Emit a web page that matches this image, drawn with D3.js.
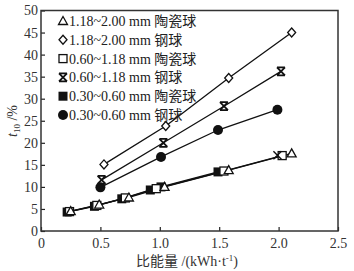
<!DOCTYPE html>
<html><head><meta charset="utf-8">
<script src="https://cdn.jsdelivr.net/npm/d3@7"></script>
<style>body{margin:0;background:#fff}svg{display:block}</style>
</head><body><svg id="c" width="354" height="271"></svg>
<script>
const xTicks = [0, 0.5, 1.0, 1.5, 2.0, 2.5];
const xTickLabels = ["0", "0.5", "1.0", "1.5", "2.0", "2.5"];
const yTicks = [0, 5, 10, 15, 20, 25, 30, 35, 40, 45, 50];
const seriesNames = ["1.18~2.00 mm 陶瓷球", "1.18~2.00 mm 钢球", "0.60~1.18 mm 陶瓷球", "0.60~1.18 mm 钢球", "0.30~0.60 mm 陶瓷球", "0.30~0.60 mm 钢球"];
const seriesSymbols = ["triangle", "diamond", "square", "star", "squareFill", "circle"];
const ceramicCoarse = [[0.25,4.5],[0.49,6.0],[0.74,7.6],[1.04,10.0],[1.58,13.8],[2.11,17.6]];
const steelCoarse = [[0.53,15.1],[1.05,23.8],[1.58,34.7],[2.11,45.0]];
const ceramicMid = [[0.24,4.4],[0.47,5.8],[0.71,7.5],[0.97,9.6],[1.54,13.6],[2.03,17.1]];
const steelMid = [[0.51,11.6],[1.03,20.0],[1.54,28.3],[2.02,36.2]];
const ceramicFine = [[0.22,4.3],[0.45,5.6],[0.68,7.3],[0.92,9.3],[1.01,10.0],[1.49,13.4]];
const steelFine = [[0.50,9.9],[1.01,16.8],[1.49,22.9],[1.99,27.5]];
const strayMarker = [[1.99,17.2]];
const seriesData = [ceramicCoarse, steelCoarse, ceramicMid, steelMid, ceramicFine, steelFine];

const svg = d3.select("#c");
const L = 41, R = 338, T = 10.5, B = 231;
const x = d3.scaleLinear().domain([0, 2.5]).range([L, R]);
const y = d3.scaleLinear().domain([0, 50]).range([B, T]);
const font = "'Liberation Serif','Times New Roman',serif";
const cjk = "'Liberation Serif','Noto Sans CJK SC',serif";

// axes
const xa = svg.append("g").attr("transform", `translate(0,${B})`)
  .call(d3.axisBottom(x).tickValues(xTicks).tickFormat((d,i)=>xTickLabels[i]).tickSizeInner(-4).tickSizeOuter(0).tickPadding(7));
const ya = svg.append("g").attr("transform", `translate(${L},0)`)
  .call(d3.axisLeft(y).tickValues(yTicks).tickSizeInner(-4).tickSizeOuter(0).tickPadding(3));
[xa, ya].forEach(g => {
  g.select(".domain").remove();
  g.selectAll("line").attr("stroke", "#222").attr("stroke-width", 1.2);
  g.selectAll("text").attr("font-family", font).attr("font-size", 14).attr("fill", "#333");
});
svg.append("rect").attr("x", L).attr("y", T).attr("width", R - L).attr("height", B - T)
  .attr("fill", "none").attr("stroke", "#333").attr("stroke-width", 1.5);

// lines
const line = d3.line().x(d => x(d[0])).y(d => y(d[1]));
seriesData.forEach(s => {
  svg.append("path").attr("d", line(s)).attr("fill", "none").attr("stroke", "#111").attr("stroke-width", 1.3);
});

function marker(g, type, cx, cy) {
  const sw = 1.3;
  if (type === "triangle") {
    g.append("path").attr("d", `M${cx},${cy-4.5}L${cx+4.5},${cy+3.5}L${cx-4.5},${cy+3.5}Z`).attr("fill", "#fff").attr("stroke", "#111").attr("stroke-width", sw);
  } else if (type === "diamond") {
    g.append("path").attr("d", `M${cx},${cy-4.5}L${cx+4},${cy}L${cx},${cy+4.5}L${cx-4},${cy}Z`).attr("fill", "#fff").attr("stroke", "#111").attr("stroke-width", sw);
  } else if (type === "square") {
    g.append("rect").attr("x", cx-4).attr("y", cy-4).attr("width", 8).attr("height", 8).attr("fill", "#fff").attr("stroke", "#111").attr("stroke-width", sw);
  } else if (type === "squareFill") {
    g.append("rect").attr("x", cx-4.5).attr("y", cy-4.5).attr("width", 9).attr("height", 9).attr("fill", "#111");
  } else if (type === "circle") {
    g.append("circle").attr("cx", cx).attr("cy", cy).attr("r", 5).attr("fill", "#111");
  } else if (type === "star") {
    g.append("path").attr("d", `M${cx-4},${cy-4}L${cx+4},${cy+4}M${cx+4},${cy-4}L${cx-4},${cy+4}M${cx-4},${cy-4}L${cx+4},${cy-4}M${cx-4},${cy+4}L${cx+4},${cy+4}`).attr("stroke", "#111").attr("stroke-width", 1.8).attr("fill", "none");
  } else if (type === "x") {
    g.append("path").attr("d", `M${cx-4},${cy-4}L${cx+4},${cy+4}M${cx+4},${cy-4}L${cx-4},${cy+4}`).attr("stroke", "#111").attr("stroke-width", 1.4).attr("fill", "none");
  }
}
// draw order: steel then ceramic
[4, 2, 0, 5, 3, 1].forEach(i => {
  const g = svg.append("g");
  seriesData[i].forEach(d => marker(g, seriesSymbols[i], x(d[0]), y(d[1])));
});
strayMarker.forEach(d => marker(svg.append("g"), "x", x(d[0]), y(d[1])));

// legend
const lg = svg.append("g");
seriesNames.forEach((n, i) => {
  const yy = 21 + i * 18.8;
  marker(lg, seriesSymbols[i], 63, yy);
  lg.append("text").attr("x", 69).attr("y", yy + 5).attr("font-family", cjk).attr("font-size", 14).attr("fill", "#222").text(n);
});

// axis titles
svg.append("text").attr("x", 187).attr("y", 266).attr("text-anchor", "middle").attr("font-family", cjk).attr("font-size", 14).attr("fill", "#333")
  .html('比能量 /(kWh·t<tspan dy="-5" font-size="9">-1</tspan><tspan dy="5">)</tspan>');
svg.append("text").attr("transform", "translate(17,121) rotate(-90)").attr("text-anchor", "middle").attr("font-family", font).attr("font-size", 14).attr("fill", "#333")
  .html('<tspan font-style="italic">t</tspan><tspan font-size="9" dy="3">10</tspan><tspan dy="-3"> /%</tspan>');
</script></body></html>
